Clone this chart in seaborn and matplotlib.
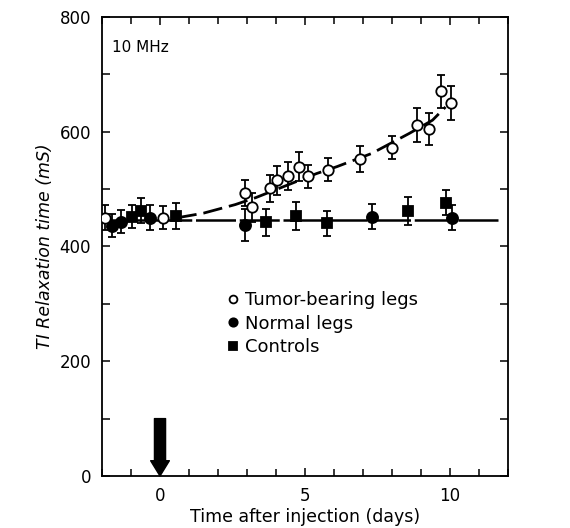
"""
T1 relaxation time after injection, 10 MHz - tumour vs normal legs vs controls.
"""

import matplotlib
matplotlib.use("Agg")
import matplotlib.pyplot as plt
from matplotlib.ticker import MultipleLocator
import pandas as pd
import seaborn as sns

# values
tumor_days = [-1.91, 0.11, 2.94, 3.17, 3.78, 4.04, 4.40, 4.78, 5.11, 5.81,
              6.91, 8.02, 8.88, 9.28, 9.68, 10.05]
tumor_t1 = [450, 450, 493, 468, 501, 515, 523, 539, 522, 534,
            552, 572, 612, 604, 670, 650]
tumor_err = [22, 20, 22, 25, 23, 25, 24, 25, 20, 20,
             23, 20, 30, 28, 28, 30]

normal_days = [-1.65, -1.33, -0.35, 2.92, 7.33, 10.06]
normal_t1 = [436, 443, 450, 438, 452, 450]
normal_err = [20, 20, 22, 28, 22, 22]

control_days = [-0.96, -0.64, 0.56, 3.64, 4.70, 5.75, 8.57, 9.87]
control_t1 = [452, 462, 453, 442, 453, 440, 462, 476]
control_err = [20, 22, 22, 24, 25, 22, 24, 22]

# hand-drawn fit through the tumour points
fit_days = [0.6, 1.5, 2.6, 3.3, 4.3, 5.4, 6.1, 7.3, 8.6, 9.4, 9.85]
fit_t1 = [450, 458, 473, 485, 505, 527, 539, 562, 597, 620, 643]

# flat baseline for normal legs / controls
base_days = [-1.8, 11.7]
base_t1 = [446, 446]

injection_day = 0
arrow_top = 100

sns.set_style("ticks")
plt.rcParams["font.family"] = ["DejaVu Sans"]
plt.rcParams["text.color"] = "black"
plt.rcParams["axes.labelcolor"] = "black"
plt.rcParams["xtick.color"] = "black"
plt.rcParams["ytick.color"] = "black"

fig = plt.figure(figsize=(5.7, 5.28), dpi=100)
ax = fig.add_axes([0.179, 0.0985, 0.712, 0.8695])

fit = pd.DataFrame({"day": fit_days, "t1": fit_t1})
base = pd.DataFrame({"day": base_days, "t1": base_t1})
sns.lineplot(data=base, x="day", y="t1", ax=ax, color="black", lw=1.8,
             estimator=None, sort=False)
ax.lines[-1].set_dashes([16, 1.5])
sns.lineplot(data=fit, x="day", y="t1", ax=ax, color="black", lw=2,
             estimator=None, sort=False)
ax.lines[-1].set_dashes([7, 2.5])

common = dict(ls="none", ecolor="black", elinewidth=1.3, capsize=3,
              capthick=1.3, markeredgecolor="black", markeredgewidth=1.3)
ctl = ax.errorbar(control_days, control_t1, yerr=control_err, marker="s",
                  ms=7.5, mfc="black", zorder=4, **common)
nrm = ax.errorbar(normal_days, normal_t1, yerr=normal_err, marker="o",
                  ms=8, mfc="black", zorder=4, **common)
tum = ax.errorbar(tumor_days, tumor_t1, yerr=tumor_err, marker="o",
                  ms=7.5, mfc="white", zorder=5, **common)

ax.annotate("", xy=(injection_day, 0), xytext=(injection_day, arrow_top),
            arrowprops=dict(arrowstyle="simple,head_width=1.35,head_length=1.1,tail_width=0.8",
                            fc="black", ec="black", shrinkA=0, shrinkB=0),
            annotation_clip=False)

ax.set_xlim(-2, 12)
ax.set_ylim(0, 800)
ax.xaxis.set_major_locator(MultipleLocator(5))
ax.xaxis.set_minor_locator(MultipleLocator(1))
ax.yaxis.set_major_locator(MultipleLocator(200))
ax.yaxis.set_minor_locator(MultipleLocator(100))
ax.tick_params(which="both", direction="in", top=True, right=True,
               length=6, width=1.1, labelsize=12, pad=8)
ax.tick_params(axis="x", which="minor", length=5)
for s in ax.spines.values():
    s.set_linewidth(1.3)
    s.set_color("black")

ax.set_xlabel("Time after injection (days)", fontsize=12.5, labelpad=2)
ax.set_ylabel("TI Relaxation time (mS)", fontsize=12.5, style="italic", labelpad=4)
ax.text(-1.65, 747, "10 MHz", fontsize=11, va="center")

# legend uses only the marker lines, not the error bars
leg = ax.legend([tum[0], nrm[0], ctl[0]],
                ["Tumor-bearing legs", "Normal legs", "Controls"],
                loc="upper left", bbox_to_anchor=(0.27, 0.438), frameon=False,
                fontsize=13, handlelength=0.6, handletextpad=0.35,
                labelspacing=0.3, markerscale=0.75)

fig.savefig("out.png", dpi=100)
